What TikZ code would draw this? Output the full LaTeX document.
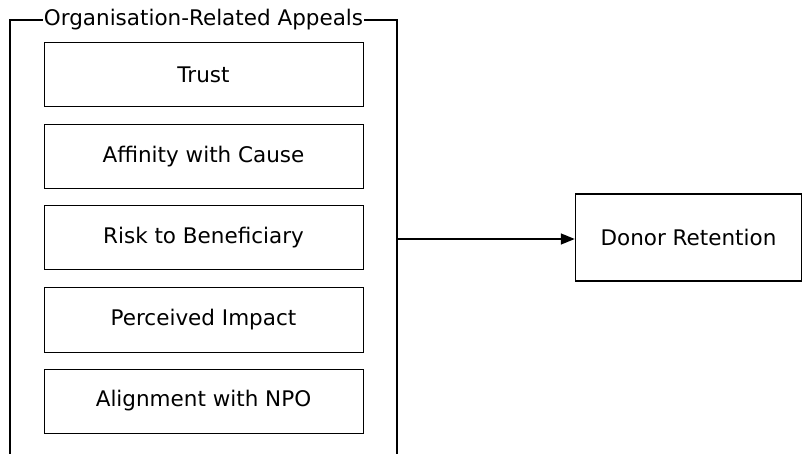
\documentclass[tikz,border=0pt]{standalone}
\usepackage{fontspec}
\setmainfont{DejaVu Sans}
\usetikzlibrary{arrows.meta}
\begin{document}
\begin{tikzpicture}[x=1pt, y=-1pt, font=\fontsize{21.5}{25}\selectfont,
  appeal/.style={draw, line width=1pt, minimum width=319pt, minimum height=64pt},
  outcome/.style={draw, line width=1.5pt, minimum width=226pt, minimum height=87pt}]
\useasboundingbox (0,0) rectangle (803,454);
% frame of the group, open at the bottom
\draw[line width=2pt] (10,454) -- (10,20) -- (397,20) -- (397,454);
\node[fill=white, inner sep=1pt] (title) at (203.5,20) {Organisation-Related Appeals};
\node[appeal] (app0) at (203.5,75) {Trust};
\node[appeal] (app1) at (203.5,157) {Affinity with Cause};
\node[appeal] (app2) at (203.5,238) {Risk to Beneficiary};
\node[appeal] (app3) at (203.5,320) {Perceived Impact};
\node[appeal] (app4) at (203.5,401) {Alignment with NPO};
\node[outcome] (out0) at (688.5,237.5) {Donor Retention};
\coordinate (grp) at (397,239);
\draw[line width=1.5pt, -{Triangle[length=14pt, width=11pt]}] (grp) -- (grp -| out0.west);
\end{tikzpicture}
\end{document}
